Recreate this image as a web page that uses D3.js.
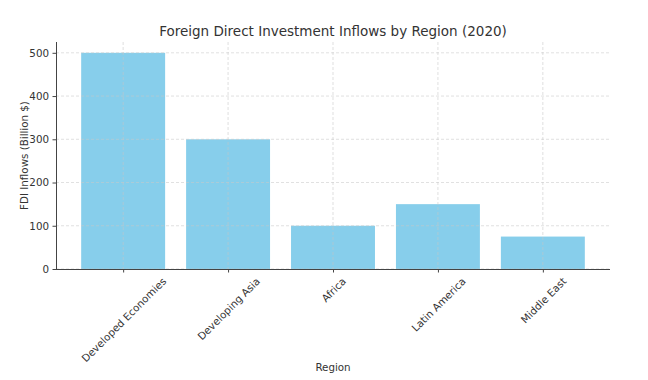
<!DOCTYPE html>
<html>
<head>
<meta charset="utf-8">
<script src="https://cdn.jsdelivr.net/npm/d3@7"></script>
<style>
  body { margin: 0; background: #fff; }
  text { font-family: "DejaVu Sans", sans-serif; fill: #333; }
  .grid line { stroke: #c8c8c8; stroke-dasharray: 3,2; stroke-opacity: 0.7; stroke-width: 0.8; }
  .axis path, .axis line { stroke: #444; }
</style>
</head>
<body>
<div id="chart"></div>
<script>
var regions = ["Developed Economies", "Developing Asia", "Africa", "Latin America", "Middle East"];
var inflows = [500, 300, 100, 150, 75];
var yTicks = [0, 100, 200, 300, 400, 500];

var margin = { top: 42, right: 38, bottom: 111, left: 56 },
  width = 648 - margin.left - margin.right,
  height = 380 - margin.top - margin.bottom;

var svg = d3.select("#chart").append("svg")
  .attr("width", 648)
  .attr("height", 380);

var g = svg.append("g")
  .attr("transform", "translate(" + margin.left + "," + margin.top + ")");

// matplotlib style: bar width 0.8, 5% margins
var x = d3.scaleLinear()
  .domain([-0.64, regions.length - 1 + 0.64])
  .range([0, width]);

var y = d3.scaleLinear()
  .domain([0, 525])
  .range([height, 0]);

g.selectAll(".bar")
  .data(inflows)
  .enter().append("rect")
  .attr("class", "bar")
  .attr("x", function(d, i) { return x(i - 0.4); })
  .attr("width", x(0.4) - x(-0.4))
  .attr("y", function(d) { return y(d); })
  .attr("height", function(d) { return height - y(d); })
  .style("fill", "#87CEEB");

// grid on top of bars
g.append("g")
  .attr("class", "grid")
  .selectAll("line.h")
  .data(yTicks)
  .enter().append("line")
  .attr("x1", 0).attr("x2", width)
  .attr("y1", function(d) { return y(d); })
  .attr("y2", function(d) { return y(d); });

g.select(".grid")
  .selectAll("line.v")
  .data(regions)
  .enter().append("line")
  .attr("class", "v")
  .attr("x1", function(d, i) { return x(i); })
  .attr("x2", function(d, i) { return x(i); })
  .attr("y1", 0).attr("y2", height);

var yAxis = d3.axisLeft(y).tickValues(yTicks).tickSize(3.5).tickPadding(3.5);
g.append("g")
  .attr("class", "y axis")
  .call(yAxis)
  .call(function(s) { s.select(".domain").attr("d", "M0.5," + height + "V0"); })
  .selectAll("text").style("font-size", "10.3px");

var xAxis = d3.axisBottom(x)
  .tickValues(d3.range(regions.length))
  .tickFormat(function(i) { return regions[i]; })
  .tickSize(3.5);

var xg = g.append("g")
  .attr("class", "x axis")
  .attr("transform", "translate(0," + height + ")")
  .call(xAxis);
xg.select(".domain").attr("d", "M0," + 0.5 + "H" + width);

// rotated labels, centred on tick like matplotlib rotation=45
xg.selectAll(".tick text")
  .style("font-size", "10.3px")
  .attr("dy", null)
  .attr("y", null)
  .attr("text-anchor", "middle")
  .attr("dominant-baseline", "central")
  .attr("transform", function() {
    var w = this.getComputedTextLength();
    var h = 11.6;
    var off = 6 + (w + h) / Math.SQRT2 / 2;
    return "translate(0," + off + ") rotate(-45)";
  });

svg.append("text")
  .attr("x", margin.left + width / 2)
  .attr("y", 36)
  .attr("text-anchor", "middle")
  .style("font-size", "13.5px")
  .text("Foreign Direct Investment Inflows by Region (2020)");

svg.append("text")
  .attr("x", margin.left + width / 2)
  .attr("y", 371)
  .attr("text-anchor", "middle")
  .style("font-size", "10.3px")
  .text("Region");

svg.append("text")
  .attr("transform", "translate(28," + (margin.top + height / 2) + ") rotate(-90)")
  .attr("text-anchor", "middle")
  .style("font-size", "10.3px")
  .text("FDI Inflows (Billion $)");
</script>
</body>
</html>
